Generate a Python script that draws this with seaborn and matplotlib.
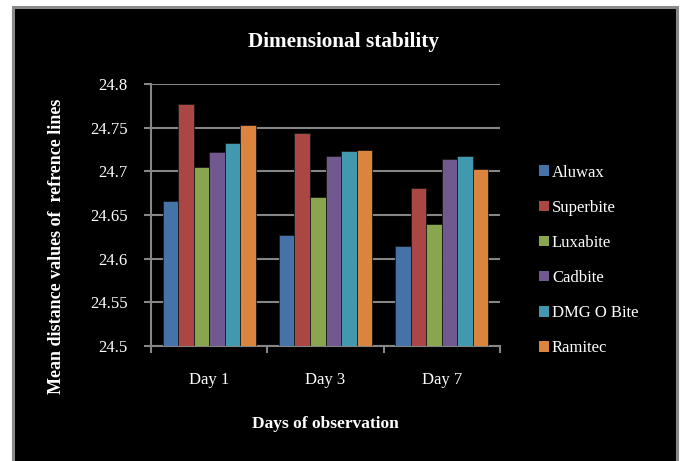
import matplotlib
matplotlib.use("Agg")
import matplotlib.pyplot as plt
import seaborn as sns
import pandas as pd
from matplotlib.patches import Rectangle, Patch

days = ["Day 1", "Day 3", "Day 7"]
materials = ["Aluwax", "Superbite", "Luxabite", "Cadbite", "DMG O Bite", "Ramitec"]
aluwax = [24.666, 24.627, 24.614]
superbite = [24.777, 24.744, 24.681]
luxabite = [24.705, 24.671, 24.640]
cadbite = [24.722, 24.717, 24.714]
dmg = [24.733, 24.723, 24.717]
ramitec = [24.753, 24.725, 24.703]
yticks = [24.5, 24.55, 24.6, 24.65, 24.7, 24.75, 24.8]
ytick_labels = ["24.5", "24.55", "24.6", "24.65", "24.7", "24.75", "24.8"]
colors = ["#4572A7", "#AA4643", "#89A54E", "#71588F", "#4198AF", "#DB843D"]

series = [aluwax, superbite, luxabite, cadbite, dmg, ramitec]
rows = []
for m, vals in zip(materials, series):
    for d, v in zip(days, vals):
        rows.append({"Day": d, "Material": m, "Value": v})
df = pd.DataFrame(rows)

sns.set_theme(style="white")
plt.rcParams["font.family"] = ["Liberation Serif", "DejaVu Serif"]

fig = plt.figure(figsize=(6.8, 4.61), dpi=100)
fig.patch.set_facecolor("white")
bg = Rectangle((12.5 / 680, -0.05), (676.5 - 12.5) / 680, 1.05 - 7.5 / 461,
               transform=fig.transFigure, facecolor="black",
               edgecolor="#8a8a8a", linewidth=2.2, zorder=-10)
fig.patches.append(bg)

ax = fig.add_axes([151 / 680, 1 - 346 / 461, (500 - 151) / 680, (346 - 84) / 461])
ax.set_zorder(1)
ax.set_facecolor("black")

sns.barplot(data=df, x="Day", y="Value", hue="Material", hue_order=materials,
            palette=colors, saturation=1, width=0.8, gap=0, ax=ax, legend=False,
            edgecolor="#1a1a1a", linewidth=0.6, zorder=3)
ax.set_ylim(24.5, 24.8)
ax.set_xlim(-0.5, 2.5)
ax.set_yticks(yticks)
ax.set_yticklabels(ytick_labels)
ax.yaxis.grid(True, color="#868686", linewidth=1.5, zorder=0)
ax.set_axisbelow(True)

for s in ["top", "right"]:
    ax.spines[s].set_visible(False)
for s in ["left", "bottom"]:
    ax.spines[s].set_color("#868686")
    ax.spines[s].set_linewidth(1.5)

ax.tick_params(axis="y", colors="white", labelsize=12, length=5, width=1.5,
               direction="out", left=True, pad=12)
ax.tick_params(axis="y", which="major", color="#868686")
ax.set_xticks([0, 1, 2])
ax.set_xticklabels(days)
ax.set_xticks([-0.5, 0.5, 1.5, 2.5], minor=True)
ax.tick_params(axis="x", which="major", length=0, labelsize=12, labelcolor="white", pad=19)
ax.tick_params(axis="x", which="minor", length=5, width=1.5, color="#868686", bottom=True)

ax.set_xlabel("Days of observation", color="white", fontsize=12.5, fontweight="bold", labelpad=20)
ax.set_ylabel("")
fig.text(57 / 680, 1 - 246 / 461, "Mean distance values of  refrence lines", color="white",
         fontsize=13, fontweight="bold", rotation=90, ha="center", va="center")

fig.text(344 / 680, 1 - 42 / 461, "Dimensional stability", color="white", fontsize=15.3,
         fontweight="bold", ha="center", va="center")

handles = [Patch(facecolor=c, edgecolor="none") for c in colors]
leg = fig.legend(handles, materials, loc="center left",
                 bbox_to_anchor=(532 / 680, 1 - 260.5 / 461), frameon=False,
                 fontsize=12, labelcolor="white", handlelength=0.6, handleheight=0.6,
                 handletextpad=0.2, labelspacing=1.15, borderaxespad=0)

fig.savefig("out.png", dpi=100, facecolor="white")
